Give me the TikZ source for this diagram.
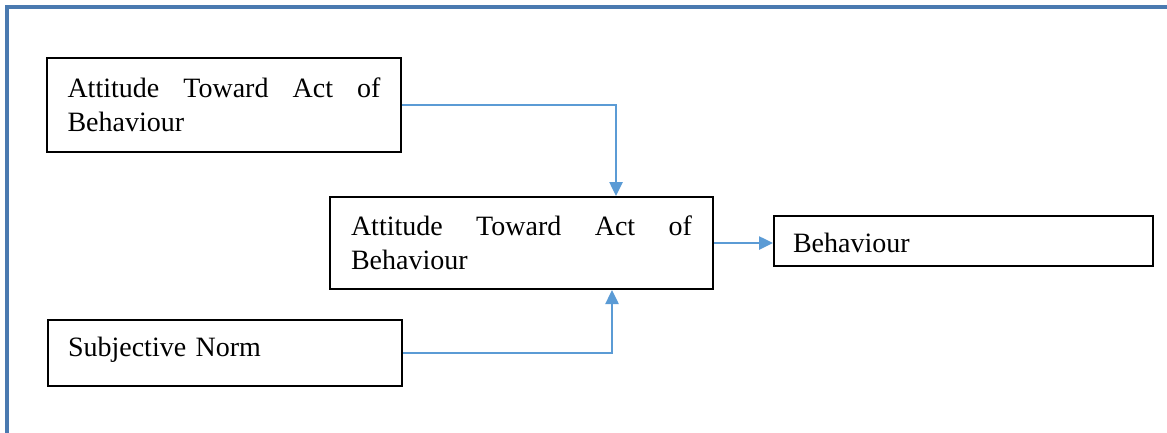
\documentclass[tikz,border=0pt]{standalone}
\usepackage{fontspec}
\setmainfont{Liberation Serif}
\usetikzlibrary{arrows.meta}
\hyphenpenalty=10000
\exhyphenpenalty=10000
\definecolor{framec}{HTML}{4A7AB0}
\definecolor{arrc}{HTML}{5B9BD5}
\begin{document}
\begin{tikzpicture}[x=1pt,y={(0pt,-1pt)},
  box/.style={draw=black, line width=2pt, rectangle, inner xsep=0pt, inner ysep=0pt,
    font=\fontsize{28}{34}\selectfont},
  conn/.style={draw=arrc, line width=2.5pt, -{Triangle[length=14pt,width=13pt]}}]
\useasboundingbox (0,0) rectangle (1167,432);
\draw[framec, line width=3.2pt] (7,445) -- (7,7) -- (1180,7);
\node[box, minimum width=354pt, minimum height=94pt, text width=313pt, align=justify, xshift=-1pt]
  (A) at (225,105) {\tolerance=10000 Attitude Toward Act of Behaviour};
\node[box, minimum width=383pt, minimum height=92pt, text width=341pt, align=justify, xshift=-1pt]
  (B) at (522.5,243) {\tolerance=10000 Attitude Toward Act of Behaviour};
\node[box, minimum width=379pt, minimum height=50pt, text width=341pt, align=left,
  text height=22pt, text depth=0pt]
  (C) at (963.5,241) {Behaviour};
\node[box, minimum width=354pt, minimum height=66pt, text width=314pt, align=left,
  text height=19pt, text depth=13pt]
  (D) at (225,353) {Subjective Norm};
\draw[conn] (A.east) -| ([xshift=94.5pt]B.north);
\draw[conn] (D.east) -| ([xshift=90.5pt]B.south);
\draw[conn] (B.east) -- (B.east -| C.west);
\end{tikzpicture}
\end{document}
